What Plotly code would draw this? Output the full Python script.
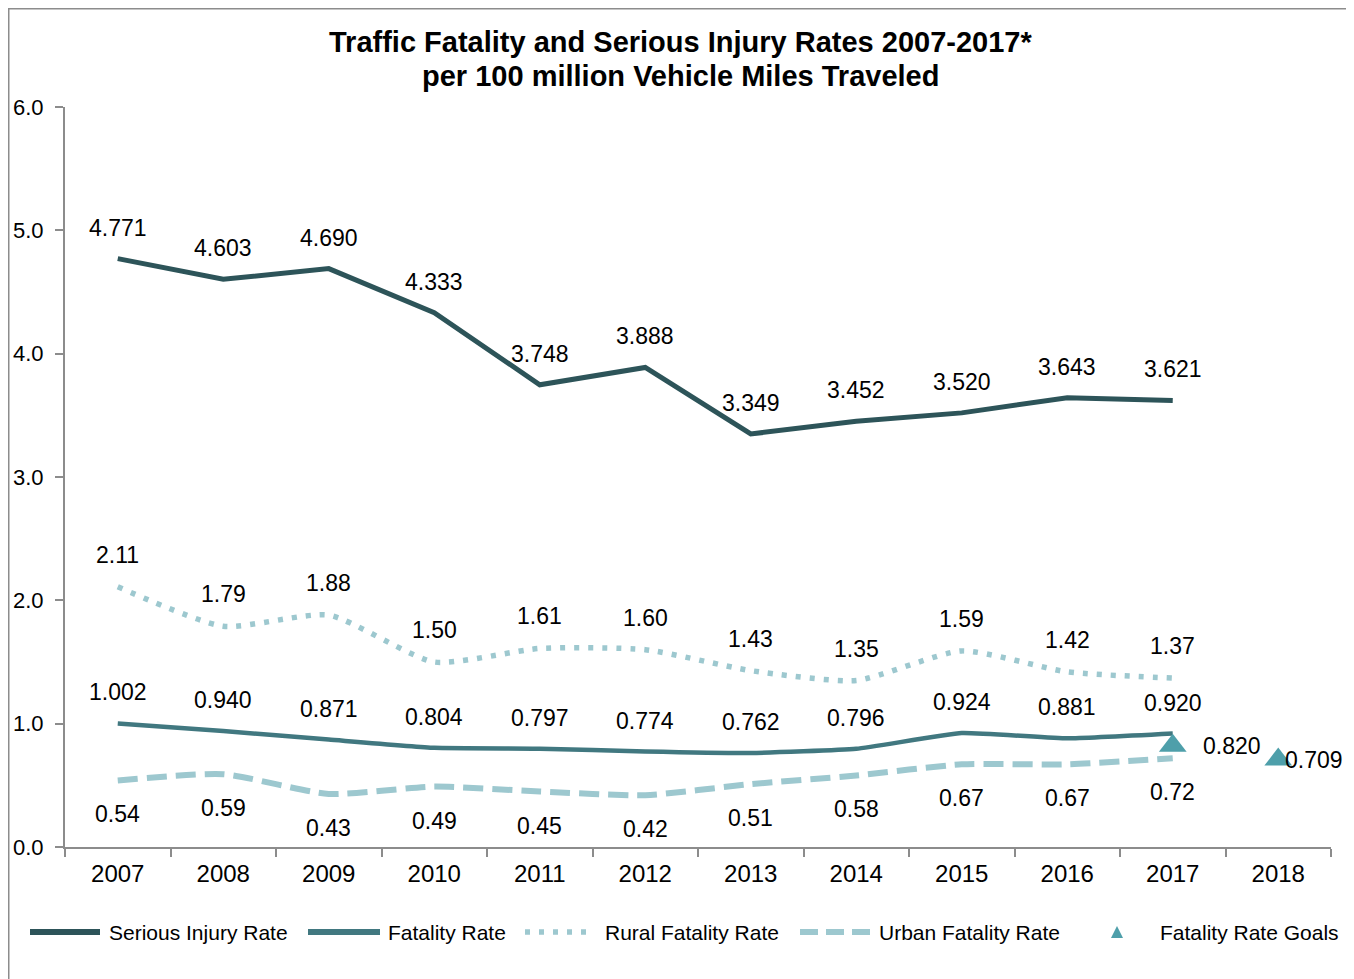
import plotly.graph_objects as go

years = ["2007", "2008", "2009", "2010", "2011", "2012", "2013", "2014", "2015", "2016", "2017"]
all_years = years + ["2018"]
serious_injury = [4.771, 4.603, 4.690, 4.333, 3.748, 3.888, 3.349, 3.452, 3.520, 3.643, 3.621]
fatality = [1.002, 0.940, 0.871, 0.804, 0.797, 0.774, 0.762, 0.796, 0.924, 0.881, 0.920]
rural = [2.11, 1.79, 1.88, 1.50, 1.61, 1.60, 1.43, 1.35, 1.59, 1.42, 1.37]
urban = [0.54, 0.59, 0.43, 0.49, 0.45, 0.42, 0.51, 0.58, 0.67, 0.67, 0.72]
goal_years = ["2017", "2018"]
goals = [0.820, 0.709]

C_SER = "#2D5459"
C_FAT = "#417880"
C_LIGHT = "#9DC8CF"
C_GOAL = "#4E9FAA"
GRAY = "#8C8C8C"
FONT = "Arial, Liberation Sans, sans-serif"

OFF = 8  # page body margin
W, H = 1354, 979
L, R, T, B = 57, 31, 99, 140
PW, PH = W - L - R, H - T - B

def px(x):
    return (x - OFF - L) / PW

def py(y):
    return (H - B - (y - OFF)) / PH

fig = go.Figure()
fig.add_trace(go.Scatter(x=years, y=serious_injury, mode="lines", name="Serious Injury Rate",
                         line=dict(color=C_SER, width=5)))
fig.add_trace(go.Scatter(x=years, y=fatality, mode="lines", name="Fatality Rate",
                         line=dict(color=C_FAT, width=4.5, shape="spline", smoothing=0.4)))
fig.add_trace(go.Scatter(x=years, y=rural, mode="lines", name="Rural Fatality Rate",
                         line=dict(color=C_LIGHT, width=5.5, dash="5px,9px", shape="spline", smoothing=0.6)))
fig.add_trace(go.Scatter(x=years, y=urban, mode="lines", name="Urban Fatality Rate",
                         line=dict(color=C_LIGHT, width=6, dash="20px,9px", shape="spline", smoothing=0.6)))
fig.add_trace(go.Scatter(x=goal_years, y=goals, mode="markers", name="Fatality Rate Goals",
                         marker=dict(symbol="triangle-up", size=24, color=C_GOAL)))

ann = []
lab_font = dict(family=FONT, size=23, color="black")

def data_label(cat, v, text, **kw):
    # category axes take the category's serial index for annotation positions
    d = dict(xref="x", yref="y", x=all_years.index(cat), y=v, text=text, showarrow=False, font=lab_font)
    d.update(kw)
    ann.append(d)

for x, v in zip(years, serious_injury):
    data_label(x, v, f"{v:.3f}", yshift=31)
for x, v in zip(years, fatality):
    data_label(x, v, f"{v:.3f}", yshift=31)
for x, v in zip(years, rural):
    data_label(x, v, f"{v:.2f}", yshift=32)
for x, v in zip(years, urban):
    data_label(x, v, f"{v:.2f}", yshift=-34)
for x, v, xs in zip(goal_years, goals, [28, 5]):
    data_label(x, v, f"{v:.3f}", xanchor="left", xshift=xs)

# title (two lines)
title_font = dict(family=FONT, size=29, color="black", weight="bold")
ann.append(dict(xref="paper", yref="paper", x=px(680), y=py(42), text="Traffic Fatality and Serious Injury Rates 2007-2017*",
                showarrow=False, xanchor="center", yanchor="middle", font=title_font))
ann.append(dict(xref="paper", yref="paper", x=px(680), y=py(76), text="per 100 million Vehicle Miles Traveled",
                showarrow=False, xanchor="center", yanchor="middle", font=title_font))

# custom legend
shapes = []
leg_y = 932
leg_font = dict(family=FONT, size=21, color="black")
legend_items = [
    ("Serious Injury Rate", 30, 100, 107, dict(color=C_SER, width=6)),
    ("Fatality Rate", 308, 380, 386, dict(color=C_FAT, width=6)),
    ("Rural Fatality Rate", 525, 592, 603, dict(color=C_LIGHT, width=5.5, dash="5px,9px")),
    ("Urban Fatality Rate", 800, 870, 877, dict(color=C_LIGHT, width=6, dash="18px,8px")),
]
for name, x0, x1, tx, ln in legend_items:
    shapes.append(dict(type="line", xref="paper", yref="paper", x0=px(x0), x1=px(x1),
                       y0=py(leg_y), y1=py(leg_y), line=ln))
    ann.append(dict(xref="paper", yref="paper", x=px(tx), y=py(leg_y), text=name, showarrow=False,
                    xanchor="left", yanchor="middle", font=leg_font))
tx0, ty0 = 1117, leg_y
path = f"M {px(tx0-6)},{py(ty0+6)} L {px(tx0+6)},{py(ty0+6)} L {px(tx0)},{py(ty0-6)} Z"
shapes.append(dict(type="path", xref="paper", yref="paper", path=path, fillcolor=C_GOAL, line=dict(width=0)))
ann.append(dict(xref="paper", yref="paper", x=px(1158), y=py(leg_y), text="Fatality Rate Goals", showarrow=False,
                xanchor="left", yanchor="middle", font=leg_font))

# outer border
shapes.append(dict(type="rect", xref="paper", yref="paper", x0=px(8.5), x1=px(1352), y0=py(1000), y1=py(8.5),
                   line=dict(color=GRAY, width=2), fillcolor="rgba(0,0,0,0)"))

fig.update_layout(
    width=W, height=H,
    margin=dict(l=L, r=R, t=T, b=B, autoexpand=False),
    paper_bgcolor="white", plot_bgcolor="white",
    showlegend=False,
    font=dict(family=FONT, size=22, color="black"),
    annotations=ann,
    shapes=shapes,
)
fig.update_xaxes(type="category", categoryorder="array", categoryarray=all_years,
                 tickvals=all_years, range=[-0.5, 11.5], automargin=False,
                 showline=True, linecolor=GRAY, linewidth=2,
                 ticks="outside", tickson="boundaries", ticklen=8, tickwidth=2, tickcolor=GRAY,
                 showgrid=False, zeroline=False, tickfont=dict(family=FONT, size=24, color="black"),
                 ticklabelstandoff=4)
fig.update_yaxes(range=[0, 6], dtick=1, tickformat=".1f", automargin=False,
                 showline=True, linecolor=GRAY, linewidth=2,
                 ticks="outside", ticklen=8, tickwidth=2, tickcolor=GRAY,
                 showgrid=False, zeroline=False, tickfont=dict(family=FONT, size=22, color="black"),
                 ticklabelstandoff=7)

fig.write_html("out.html")
